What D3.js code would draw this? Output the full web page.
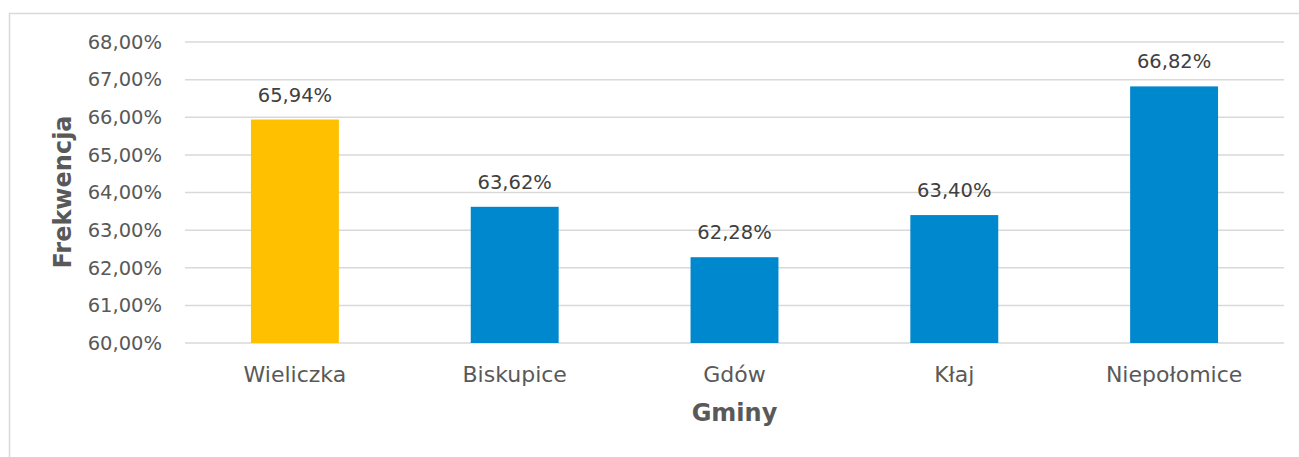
<!DOCTYPE html>
<html><head><meta charset="utf-8">
<script src="https://cdn.jsdelivr.net/npm/d3@7/dist/d3.min.js"></script>
<style>body{margin:0;background:#fff;} text{font-family:"DejaVu Sans",sans-serif;fill:#595959;}</style>
</head><body>
<svg id="c" width="1299" height="457"></svg>
<script>
const categories = ["Wieliczka","Biskupice","Gdów","Kłaj","Niepołomice"];
const values = [65.94,63.62,62.28,63.40,66.82];
const barColors = ["#FFC000","#0088CE","#0088CE","#0088CE","#0088CE"];
const yTicks = [60,61,62,63,64,65,66,67,68];
const yTitle = "Frekwencja";
const xTitle = "Gminy";

const FONT = "'DejaVu Sans', sans-serif";
const svg = d3.select("#c");
svg.append("rect").attr("x",9.5).attr("y",13.5).attr("width",1300).attr("height",460)
  .attr("fill","none").attr("stroke","#d9d9d9").attr("stroke-width",1.5);

const m = {left:185, right:1284, top:42, bottom:343};
const x = d3.scaleBand().domain(categories).range([m.left,m.right]).paddingInner(0.6).paddingOuter(0.3);
const y = d3.scaleLinear().domain([60,68]).range([m.bottom,m.top]);
const fmt = v => d3.format(".2f")(v).replace(".",",") + "%";

const g = svg.append("g");
g.selectAll("line.grid").data(yTicks).join("line")
  .attr("x1",m.left).attr("x2",m.right).attr("y1",d=>y(d)).attr("y2",d=>y(d))
  .attr("stroke","#d9d9d9").attr("stroke-width",1.5);

const yAxis = d3.axisLeft(y).tickValues(yTicks).tickFormat(fmt).tickSize(0).tickPadding(23);
const ya = svg.append("g").attr("transform",`translate(${m.left},0)`).call(yAxis);
ya.select(".domain").remove();
ya.selectAll("text").style("font-size","19.5px").attr("fill","#595959").style("font-family",FONT);

svg.selectAll("rect.bar").data(values).join("rect").attr("class","bar")
  .attr("x",(d,i)=>x(categories[i])).attr("width",x.bandwidth())
  .attr("y",d=>y(d)).attr("height",d=>y(60)-y(d))
  .attr("fill",(d,i)=>barColors[i]);

svg.selectAll("text.lbl").data(values).join("text").attr("class","lbl")
  .attr("x",(d,i)=>x(categories[i])+x.bandwidth()/2).attr("y",d=>y(d)-18)
  .attr("text-anchor","middle").style("font-size","19.5px").style("fill","#404040").text(fmt);

const xAxis = d3.axisBottom(x).tickSize(0).tickPadding(23);
const xa = svg.append("g").attr("transform",`translate(0,${m.bottom})`).call(xAxis);
xa.select(".domain").remove();
xa.selectAll("text").style("font-size","22px").attr("fill","#595959").style("font-family",FONT);

svg.append("text").attr("x",(m.left+m.right)/2).attr("y",421).attr("text-anchor","middle")
  .style("font-size","24px").style("font-weight","bold").text(xTitle);
svg.append("text").attr("transform","translate(71,192) rotate(-90)").attr("text-anchor","middle")
  .style("font-size","24px").style("font-weight","bold").text(yTitle);
</script>
</body></html>
